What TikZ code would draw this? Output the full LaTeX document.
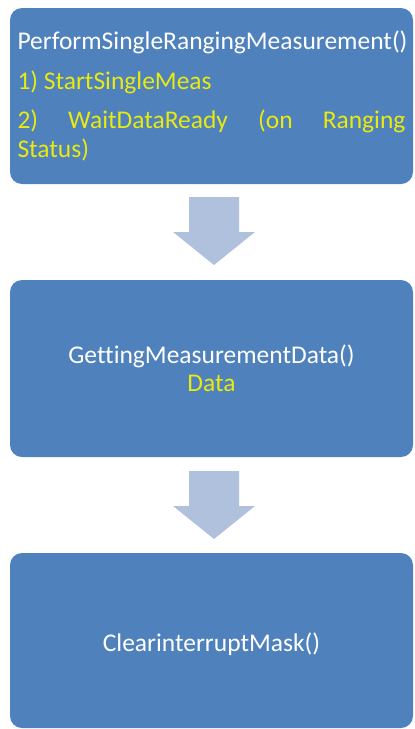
\documentclass[tikz,border=0pt]{standalone}
\usepackage{fontspec}
\setmainfont{Carlito}[Ligatures=NoCommon]
\usetikzlibrary{calc}
\definecolor{boxblue}{HTML}{4F81BD}
\definecolor{arrowblue}{HTML}{B0C1DD}
\definecolor{hiyellow}{HTML}{E8EA10}
\tikzset{
  stepbox/.style={rectangle, rounded corners=12pt, fill=boxblue, draw=none,
    minimum width=403pt, text width=388pt, inner xsep=7.5pt, inner ysep=0pt,
    text=white, font=\fontsize{25.5}{28.5}\selectfont},
  flowarrow/.pic={
    \fill[arrowblue] (-25,34) -- (25,34) -- (25,-1) -- (41,-1) -- (0,-34)
      -- (-41,-1) -- (-25,-1) -- cycle;
  }
}
\begin{document}
\begin{tikzpicture}[x=1pt,y=1pt]
  \useasboundingbox (0,0) rectangle (415,-729);
  % processing steps
  \node[stepbox, minimum height=176pt, align=justify] (b1) at (211.5,-96)
    {\parindent=0pt\hyphenpenalty=10000\exhyphenpenalty=10000\tolerance=10000
     PerformSingleRangingMeasurement()\par\vspace{11pt}
     {\color{hiyellow}1) StartSingleMeas}\par\vspace{11pt}
     {\color{hiyellow}2) WaitDataReady (on Ranging\linebreak Status)}\par};
  \node[stepbox, minimum height=177pt, align=center] (b2) at (211.5,-368.5)
    {GettingMeasurementData()\\{\color{hiyellow}Data}};
  \node[stepbox, minimum height=175pt, align=center] (b3) at (211.5,-640.5)
    {\rule{0pt}{26pt}ClearinterruptMask()};
  % block arrows between the steps
  \path ($(b1.south)!0.5!(b2.north)$) ++(2.5,1) pic {flowarrow};
  \path ($(b2.south)!0.5!(b3.north)$) ++(2.5,0) pic {flowarrow};
\end{tikzpicture}
\end{document}
